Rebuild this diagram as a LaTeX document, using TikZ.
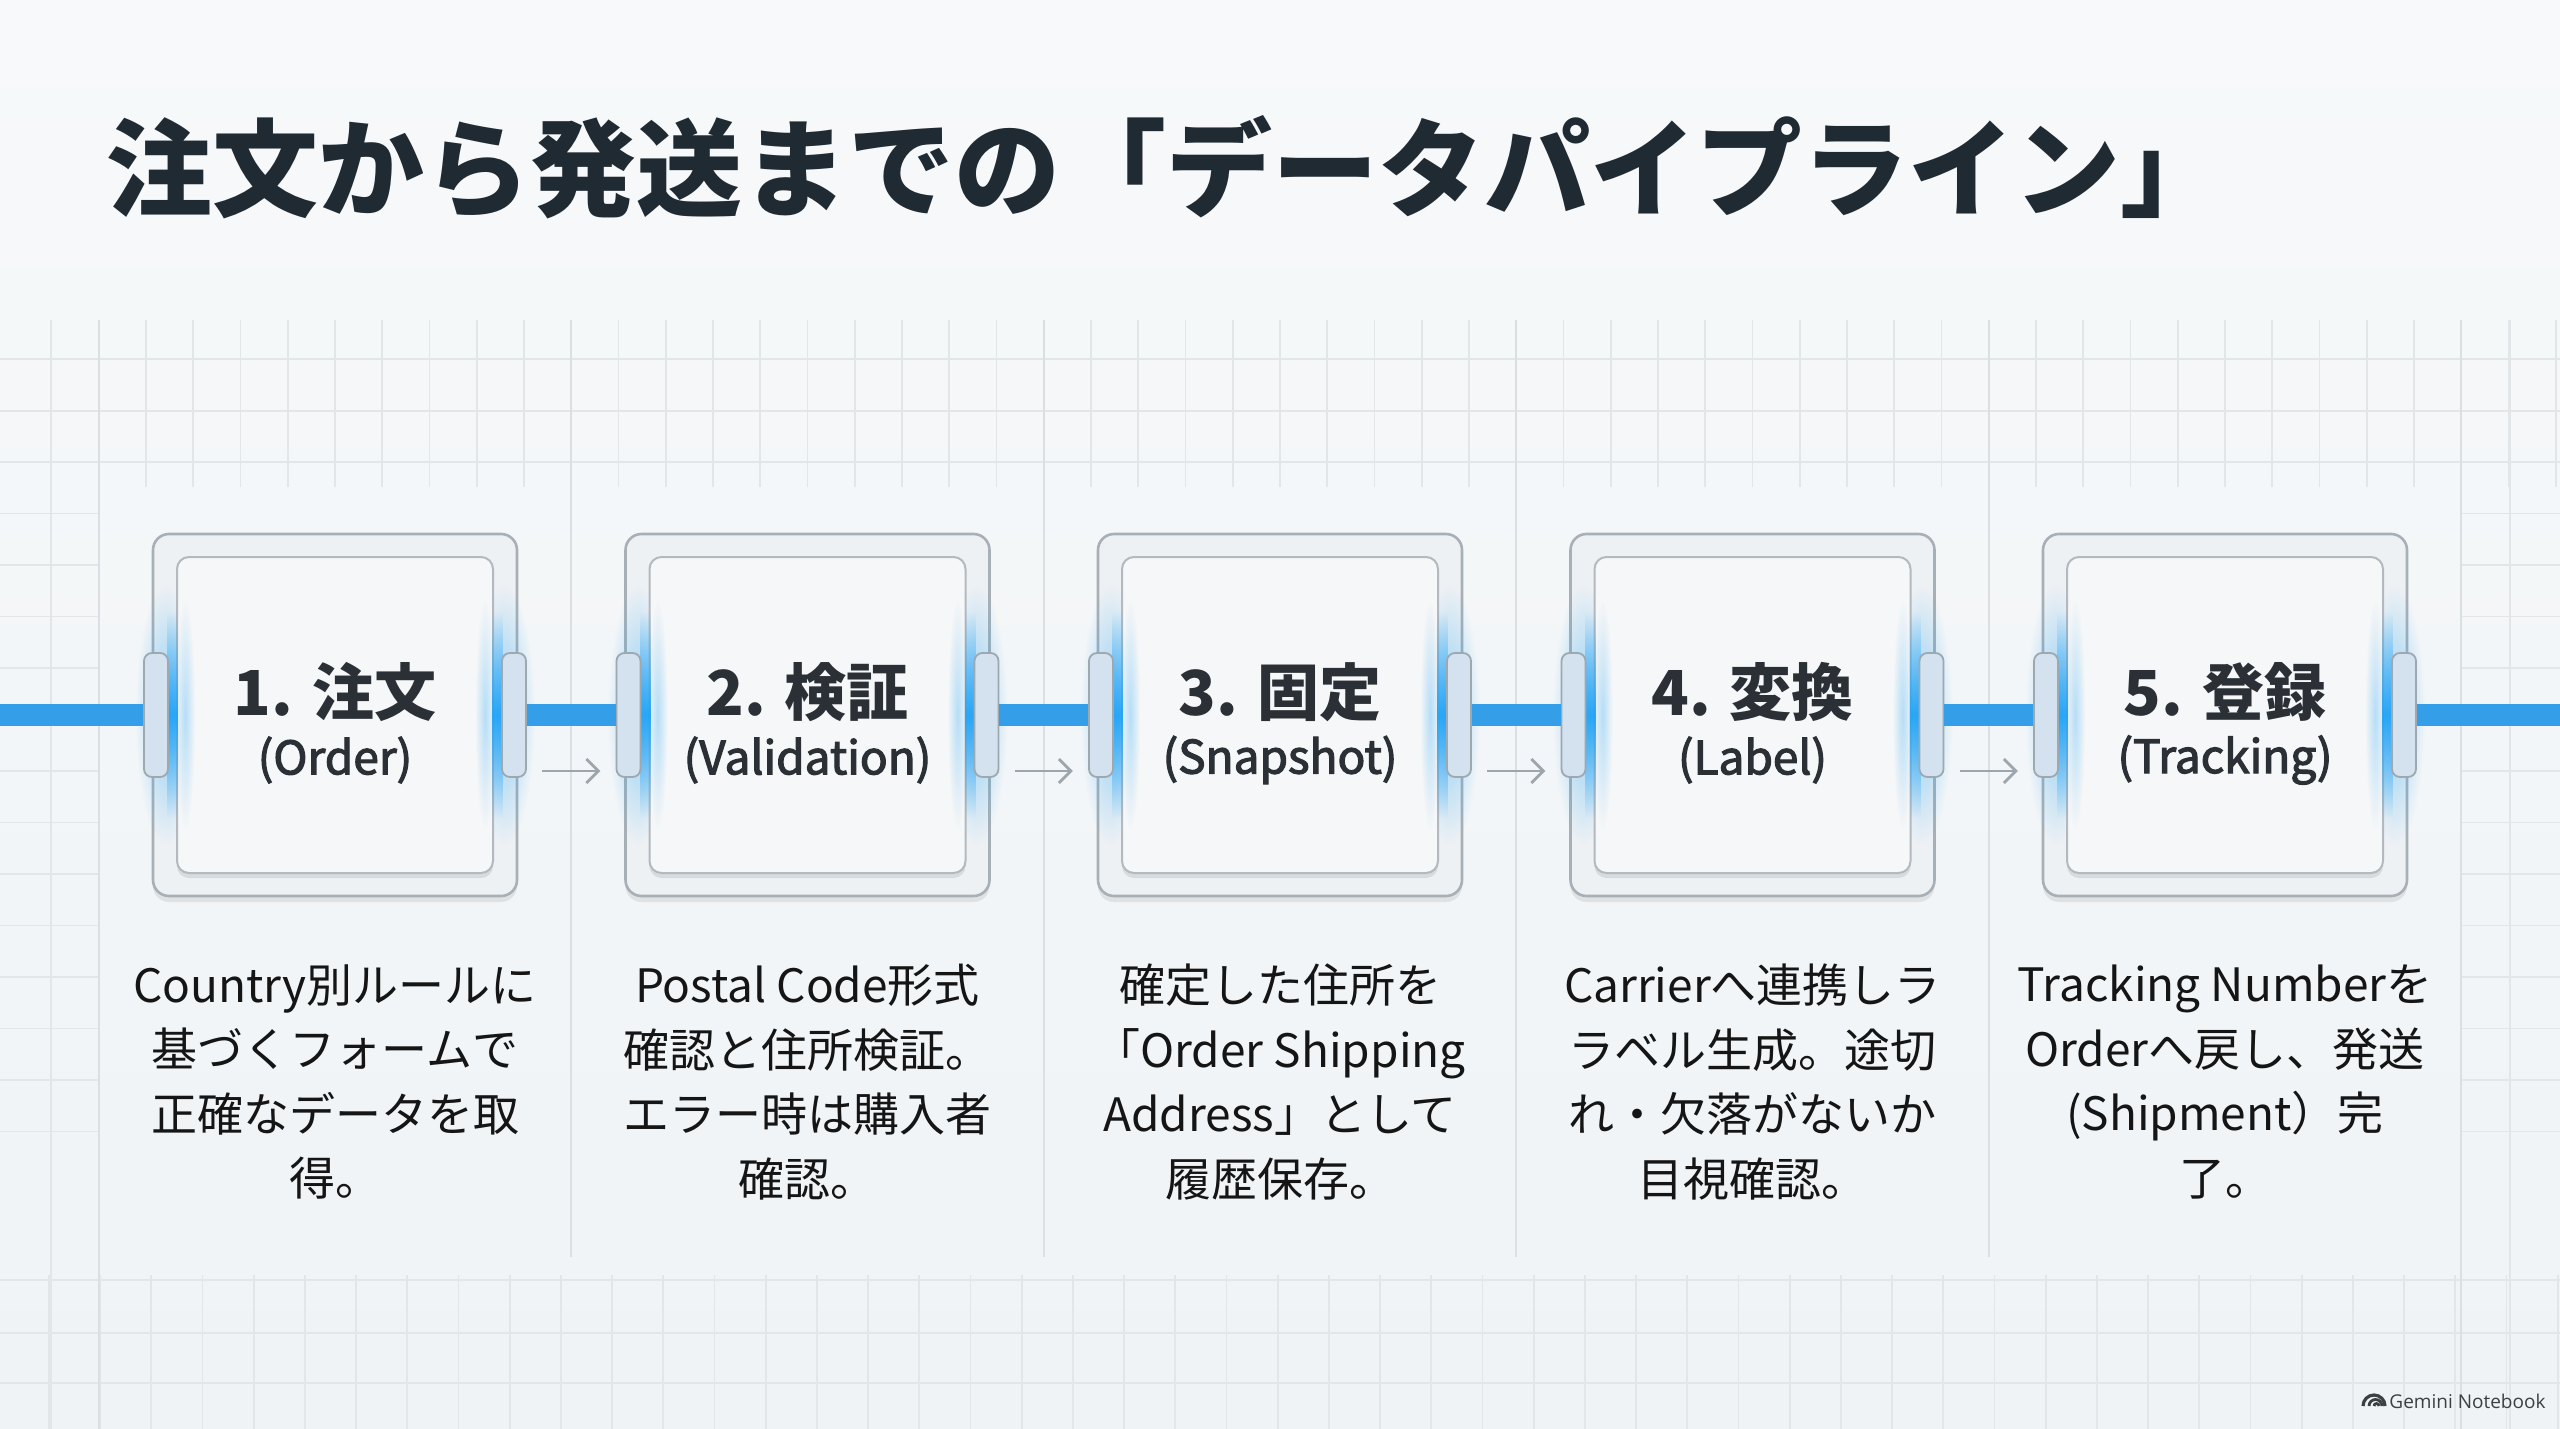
\documentclass[tikz,border=0pt]{standalone}
\usepackage{fontspec}
\setmainfont{Noto Sans CJK JP}
\newfontfamily\semib[FakeBold=2.5]{Noto Sans CJK JP}
\newfontfamily\logofont{Open Sans}
\usetikzlibrary{shadows,fadings,arrows.meta}

\definecolor{bgtop}{HTML}{F7F9FA}
\definecolor{bgbot}{HTML}{EFF3F6}
\definecolor{gridc}{HTML}{E2E6E9}
\definecolor{divc}{HTML}{DADFE3}
\definecolor{pipeblue}{HTML}{359EE8}
\definecolor{glowblue}{HTML}{22A4F7}
\definecolor{framefill}{HTML}{EDF1F4}
\definecolor{framedraw}{HTML}{A8B0B7}
\definecolor{boxfill}{HTML}{F6F7F8}
\definecolor{boxdraw}{HTML}{B3B9BF}
\definecolor{tabfill}{HTML}{D3E2EE}
\definecolor{tabdraw}{HTML}{9DA8B1}
\definecolor{titlec}{HTML}{1F2A33}
\definecolor{labelc}{HTML}{2A3036}
\definecolor{descc}{HTML}{151515}
\definecolor{arrowc}{HTML}{9EA6AD}
\definecolor{logoc}{HTML}{3C4043}

\tikzfading[name=glowv, top color=transparent!100, bottom color=transparent!100, middle color=transparent!0]
\tikzfading[name=glowr, inner color=transparent!0, outer color=transparent!100]

\tikzset{
  pgrid/.style={draw=gridc, line width=0.9pt},
  pdiv/.style={draw=divc, line width=1pt},
  pframe/.style={draw=framedraw, line width=1.3pt, fill=framefill, rounded corners=8pt,
    minimum width=182pt, minimum height=181pt, inner sep=0pt,
    drop shadow={shadow xshift=0pt, shadow yshift=-3pt, opacity=0.08, fill=black}},
  pcard/.style={draw=boxdraw, line width=1pt, fill=boxfill, rounded corners=6pt,
    minimum width=158pt, minimum height=158pt, inner sep=0pt,
    drop shadow={shadow xshift=0pt, shadow yshift=-2.5pt, opacity=0.09, fill=black}},
  ptab/.style={draw=tabdraw, line width=0.9pt, fill=tabfill, rounded corners=4pt,
    minimum width=12pt, minimum height=62pt, inner sep=0pt},
  ppipe/.style={draw=pipeblue, line width=11pt},
  parrow/.style={draw=arrowc, line width=1.4pt, -{Straight Barb[length=6pt, width=12pt]}},
  ptitle/.style={font=\bfseries\fontsize{53}{60}\selectfont, text=titlec, anchor=west, inner sep=0pt},
  plabel/.style={font=\bfseries\fontsize{31}{36}\selectfont, text=labelc, inner sep=0pt},
  psub/.style={font=\semib\fontsize{23}{28}\selectfont, text=labelc, inner sep=0pt},
  pdesc/.style={font=\fontsize{23}{32.25}\selectfont, text=descc, align=center, inner sep=0pt},
  plogo/.style={font=\logofont\fontsize{9.5}{11}\selectfont, text=logoc, anchor=west, inner sep=0pt}
}

\begin{document}
\begin{tikzpicture}[x=0.5pt,y=-0.5pt]
% background
\shade[top color=bgtop, bottom color=bgbot] (0,0) rectangle (2560,1429);
\useasboundingbox (0,0) rectangle (2560,1429);

% grid: top band
\foreach \k in {-1,...,52} {
  \pgfmathsetmacro\gx{98.75+47.25*\k}
  \draw[pgrid] (\gx,320) -- (\gx,487);
}
% grid: bottom band
\foreach \k in {-1,...,48} {
  \pgfmathsetmacro\gx{100+51.2*\k}
  \draw[pgrid] (\gx,1275) -- (\gx,1429);
}
\foreach \gy in {359,411,462,1280,1333,1383} {
  \draw[pgrid] (0,\gy) -- (2560,\gy);
}
% side columns
\foreach \k in {3,...,15} {
  \pgfmathsetmacro\gy{359+51.5*\k}
  \draw[pgrid] (0,\gy) -- (98.75,\gy);
  \draw[pgrid] (2461.25,\gy) -- (2560,\gy);
}
\draw[pgrid] (51,320) -- (51,1429);
\draw[pgrid] (2510,320) -- (2510,1429);
% column dividers
\draw[pdiv] (98.75,320) -- (98.75,1429);
\draw[pdiv] (2461.25,320) -- (2461.25,1429);
\foreach \k in {1,...,4} {
  \pgfmathsetmacro\gx{98.75+472.5*\k}
  \draw[pdiv] (\gx,320) -- (\gx,1257);
}

% title
\node[ptitle] (title) at (106,167) {注文から発送までの「データパイプライン」};

% boxes
\foreach \i in {0,...,4} {
  \pgfmathsetmacro\cx{335+472.5*\i}
  \node[pframe] (outer\i) at (\cx,715) {};
  % halos
  \fill[glowblue, path fading=glowr, opacity=0.45] (\cx-200,585) rectangle (\cx-138,845);
  \fill[glowblue, path fading=glowr, opacity=0.45] (\cx+138,585) rectangle (\cx+200,845);
  \node[pcard] (inner\i) at (\cx,715) {};
  \fill[glowblue, path fading=glowv, opacity=0.95] (\cx-168,612) rectangle (\cx-157,818);
  \fill[glowblue, path fading=glowv, opacity=0.95] (\cx+157,612) rectangle (\cx+168,818);
  \fill[glowblue, path fading=glowr, opacity=0.30] (\cx-160,600) rectangle (\cx-140,830);
  \fill[glowblue, path fading=glowr, opacity=0.30] (\cx+140,600) rectangle (\cx+160,830);
  \node[ptab] (tabL\i) at (\cx-179,715) {};
  \node[ptab] (tabR\i) at (\cx+179,715) {};
}

% pipe segments
\coordinate (pstart) at (0,715);
\coordinate (pend) at (2560,715);
\draw[ppipe] (pstart) -- (tabL0.west);
\draw[ppipe] (tabR0.east) -- (tabL1.west);
\draw[ppipe] (tabR1.east) -- (tabL2.west);
\draw[ppipe] (tabR2.east) -- (tabL3.west);
\draw[ppipe] (tabR3.east) -- (tabL4.west);
\draw[ppipe] (tabR4.east) -- (pend);

% small flow arrows
\foreach \i in {0,...,3} {
  \pgfmathsetmacro\gx{335+472.5*\i+236.25}
  \coordinate (as\i) at (\gx-29,771);
  \coordinate (ae\i) at (\gx+29,771);
  \draw[parrow] (as\i) -- (ae\i);
}

% labels
\node[plabel] (lab0) at (335,692) {1. 注文};
\node[psub] (sub0) at (335,760) {(Order)};
\node[plabel] (lab1) at (807.5,692) {2. 検証};
\node[psub] (sub1) at (807.5,760) {(Validation)};
\node[plabel] (lab2) at (1280,692) {3. 固定};
\node[psub] (sub2) at (1280,760) {(Snapshot)};
\node[plabel] (lab3) at (1752.5,692) {4. 変換};
\node[psub] (sub3) at (1752.5,760) {(Label)};
\node[plabel] (lab4) at (2225,692) {5. 登録};
\node[psub] (sub4) at (2225,760) {(Tracking)};

% descriptions
\node[pdesc] (d0) at (335,1082) {Country別ルールに\\基づくフォームで\\正確なデータを取\\得。};
\node[pdesc] (d1) at (807.5,1082) {Postal Code形式\\確認と住所検証。\\エラー時は購入者\\確認。};
\node[pdesc] (d2) at (1280,1082) {確定した住所を\\「Order Shipping\\Address」として\\履歴保存。};
\node[pdesc] (d3) at (1752.5,1082) {Carrierへ連携しラ\\ラベル生成。途切\\れ・欠落がないか\\目視確認。};
\node[pdesc] (d4) at (2225,1082) {Tracking Numberを\\Orderへ戻し、発送\\(Shipment）完\\了。};

% watermark
\draw[logoc, line width=1.6pt] (2363,1406) arc[start angle=180, end angle=360, radius=11];
\draw[logoc, line width=1.4pt] (2369,1406) arc[start angle=180, end angle=360, radius=6.5];
\draw[logoc, line width=1.4pt] (2374,1406) arc[start angle=180, end angle=360, radius=2.5];
\node[plogo] (logo) at (2389,1401) {Gemini Notebook};
\end{tikzpicture}
\end{document}
